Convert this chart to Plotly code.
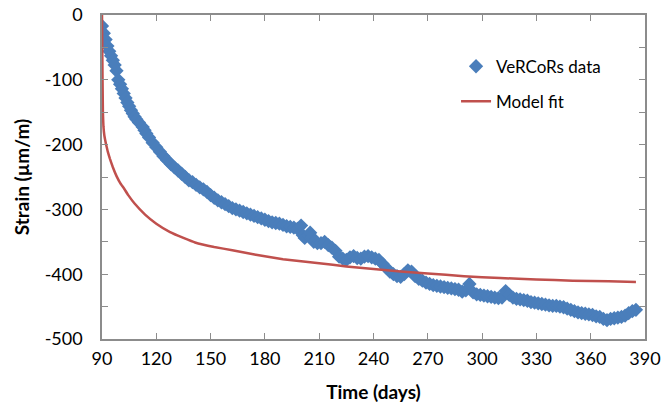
import plotly.graph_objects as go

data_days = [
    90, 91, 92, 93, 94, 95, 96, 97, 98,
    99, 100, 101, 102, 103, 104, 105, 106, 107, 108, 109, 110.4,
    112.5, 113.5, 114.5, 116, 118, 120, 122, 124, 126, 128, 130, 132, 134, 136, 138, 140,
    142, 144, 146, 148, 150, 152, 154, 156, 158, 160, 162, 164, 166, 168, 170, 172,
    174, 176, 178, 180, 182, 184, 186, 188, 190, 192, 194, 196, 198, 200, 201, 202,
    204, 205, 206, 207, 209, 211, 213, 215, 217, 219, 221, 223, 225, 227, 229, 231,
    233, 235, 237, 239, 241, 243, 245, 247, 249, 251, 253, 255, 257, 259, 261, 263,
    265, 267, 269, 271, 273, 275, 277, 279, 281, 283, 285, 287, 289, 291, 293, 295,
    297, 299, 301, 303, 305, 307, 309, 311, 313, 315, 317, 319, 321, 323, 325, 327,
    329, 331, 333, 335, 337, 339, 341, 343, 345, 347, 349, 351, 353, 355, 357, 359,
    361, 363, 365, 367, 369, 371, 373, 375, 377, 379, 381, 383, 385,
]
data_strain = [
    -17, -28, -38, -48, -56, -63, -70, -77, -86,
    -100, -107, -114, -121, -128, -135, -141, -147, -152, -157, -161, -166,
    -173, -178, -183, -189, -197, -204, -211, -218, -224, -230, -235, -240, -245, -250, -255, -258,
    -262, -266, -269, -273, -278, -282, -286, -289, -292, -295, -298, -300, -302, -304, -306, -308,
    -310, -312, -314, -316, -318, -320, -321, -322, -324, -326, -327, -328, -330, -325, -340, -344,
    -340, -336, -343, -350, -352, -352, -350, -355, -359, -364, -373, -376, -378, -374, -372, -375,
    -376, -373, -372, -374, -376, -378, -384, -390, -396, -400, -403, -404, -400, -394, -396, -403,
    -407, -410, -413, -415, -417, -418, -419, -420, -421, -422, -423, -424, -427, -425, -415, -428,
    -431, -432, -433, -434, -435, -436, -437, -436, -426, -432, -436, -438, -439, -440, -441, -443,
    -444, -445, -446, -447, -448, -449, -449, -450, -451, -453, -455, -457, -459, -460, -461, -462,
    -463, -465, -466, -469, -471, -469, -468, -467, -466, -464, -460, -457, -455,
]

# Model fit curve
model_days = [90, 90.3, 90.5, 90.8, 91.3, 92.2, 93.2, 94.4, 96, 98.1, 100, 102, 104.5,
              108, 113.8, 120, 127.6, 135, 141.4, 152, 162, 175, 190, 200, 210, 225,
              240, 255, 270, 290, 310, 330, 350, 370, 385]
model_strain = [0, -100, -150, -172, -186, -199, -211, -222, -235, -249, -259, -267, -278,
                -291, -308, -322, -335, -344, -351, -358, -363, -370, -377, -380, -383, -388,
                -392, -396, -399, -403, -406, -408, -410, -411, -412]

x_ticks = [90, 120, 150, 180, 210, 240, 270, 300, 330, 360, 390]
y_ticks = [0, -100, -200, -300, -400, -500]

FONT = "Lato"
AXIS_COLOR = "#8c8c8c"

fig = go.Figure()
fig.add_trace(go.Scatter(
    x=data_days, y=data_strain, mode="markers", name="VeRCoRs data",
    legendgroup="a",
    marker=dict(symbol="diamond", size=11, color="#4a7ebb"),
))
fig.add_trace(go.Scatter(
    x=model_days, y=model_strain, mode="lines", name="Model fit",
    legendgroup="b",
    line=dict(color="#c0504d", width=2.5, shape="spline", smoothing=0.3),
))

fig.update_layout(
    width=663, height=412,
    margin=dict(l=102, r=18, t=15, b=73),
    paper_bgcolor="white", plot_bgcolor="white",
    font=dict(family=FONT, size=17, color="#000000"),
    legend=dict(
        x=0.652, y=0.896, xanchor="left", yanchor="top",
        bgcolor="rgba(0,0,0,0)", borderwidth=0,
        traceorder="grouped", tracegroupgap=10,
        font=dict(family=FONT, size=17),
    ),
    showlegend=True,
)
fig.update_xaxes(
    range=[90, 390], tickvals=x_ticks, ticktext=[str(v) for v in x_ticks],
    automargin=False, ticklabeloverflow="allow",
    showgrid=False, zeroline=False,
    showline=True, linecolor=AXIS_COLOR, linewidth=1.5, mirror="ticks",
    ticks="inside", ticklen=6, tickcolor=AXIS_COLOR, tickwidth=1,
    ticklabelstandoff=3, tickfont=dict(size=18),
    title=dict(text="<b>Time (days)</b>", font=dict(family=FONT, size=19), standoff=17),
)
fig.update_yaxes(
    range=[-500, 0], tickvals=y_ticks, ticktext=[str(v) for v in y_ticks],
    automargin=False, ticklabeloverflow="allow",
    showgrid=False, zeroline=False,
    showline=True, linecolor=AXIS_COLOR, linewidth=1.5, mirror="ticks",
    ticks="inside", ticklen=6, tickcolor=AXIS_COLOR, tickwidth=1,
    minor=dict(dtick=50, ticks="inside", ticklen=6, tickcolor=AXIS_COLOR, tickwidth=1),
    ticklabelstandoff=14, tickfont=dict(size=18),
    title=dict(text="<b>Strain (µm/m)</b>", font=dict(family=FONT, size=19), standoff=10),
)

# remove the default page margin so the 663x412 figure fills the window exactly
fig.write_html("out.html", config={"displayModeBar": False},
               post_script="document.body.style.margin='0';")
